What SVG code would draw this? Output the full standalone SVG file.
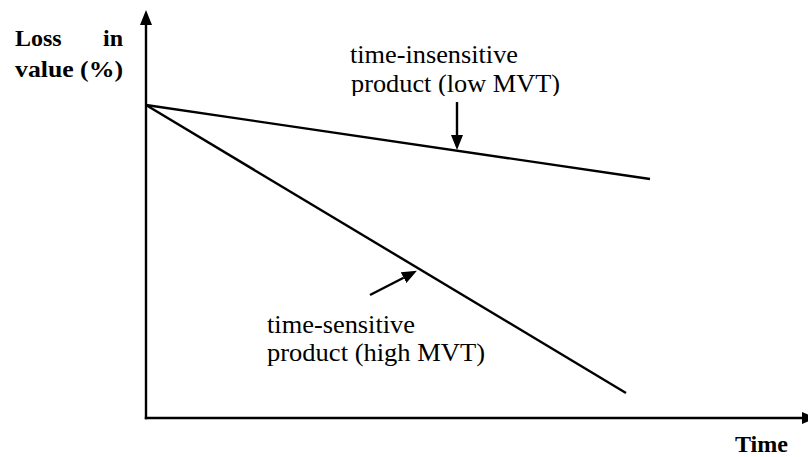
<svg xmlns="http://www.w3.org/2000/svg" width="808" height="457" viewBox="0 0 808 457">
<style>
.ax{stroke:#000;stroke-width:2.4;fill:none}
.ln{stroke:#000;stroke-width:2.4;fill:none}
.r{font-family:'Liberation Serif','Times New Roman',serif;font-size:25px;fill:#000}
.b{font-family:'Liberation Serif','Times New Roman',serif;font-size:24px;font-weight:bold;fill:#000}
</style>
<defs>
<marker id="ah" viewBox="0 0 15 12" refX="0" refY="6" markerWidth="15" markerHeight="12" markerUnits="userSpaceOnUse" orient="auto">
<path d="M0,0 L15,6 L0,12 Z" fill="#000"/>
</marker>
<clipPath id="clipTop"><rect x="0" y="0" width="808" height="96"/></clipPath>
</defs>
<rect width="808" height="457" fill="#fff"/>
<g id="axes">
<line class="ax" x1="146" y1="419.2" x2="146" y2="25" marker-end="url(#ah)"/>
<line class="ax" x1="144.8" y1="418" x2="802" y2="418" marker-end="url(#ah)"/>
</g>
<g id="curves">
<line class="ln" x1="146" y1="105" x2="650" y2="179"/>
<line class="ln" x1="146" y1="105" x2="626" y2="393"/>
</g>
<g id="connectors">
<line class="ln" x1="457" y1="102" x2="457" y2="135" marker-end="url(#ah)"/>
<line class="ln" x1="370" y1="295" x2="403.6" y2="277.7" marker-end="url(#ah)"/>
</g>
<g id="labels">
<text class="b" x="15" y="46">Loss</text>
<text class="b" x="123" y="46" text-anchor="end">in</text>
<text class="b" x="15" y="77" textLength="108" lengthAdjust="spacingAndGlyphs">value (%)</text>
<text class="r" x="350" y="63" textLength="168" lengthAdjust="spacingAndGlyphs">time-insensitive</text>
<text class="r" x="351" y="92" textLength="209" lengthAdjust="spacingAndGlyphs" clip-path="url(#clipTop)">product (low MVT)</text>
<text class="r" x="267" y="333" textLength="148" lengthAdjust="spacingAndGlyphs">time-sensitive</text>
<text class="r" x="267" y="361" textLength="218" lengthAdjust="spacingAndGlyphs">product (high MVT)</text>
<text class="b" x="735" y="452" textLength="53" lengthAdjust="spacingAndGlyphs">Time</text>
</g>
</svg>
